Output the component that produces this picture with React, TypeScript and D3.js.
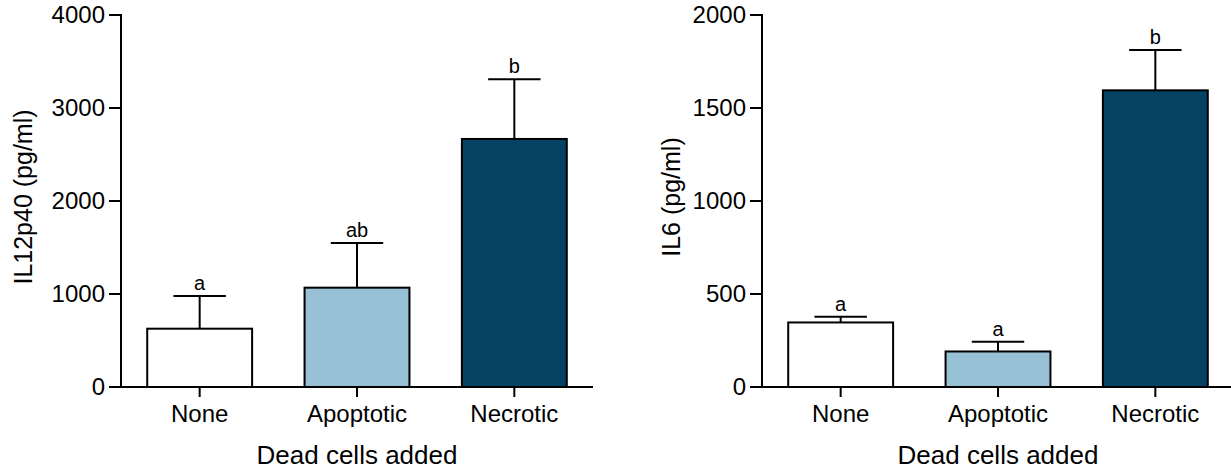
import React from "react";
import * as d3 from "d3";

// Dead-cell treatment groups
const categories = ["None", "Apoptotic", "Necrotic"];
const fills = ["#ffffff", "#99c1d6", "#034262"];

// IL12p40 (pg/ml): mean and SEM per group, with significance letters
const il12Means = [627, 1068, 2667];
const il12Sem = [351, 480, 642];
const il12Letters = ["a", "ab", "b"];
const il12Ticks = [0, 1000, 2000, 3000, 4000];

// IL6 (pg/ml): mean and SEM per group, with significance letters
const il6Means = [347, 191, 1595];
const il6Sem = [31, 52, 217];
const il6Letters = ["a", "a", "b"];
const il6Ticks = [0, 500, 1000, 1500, 2000];

const FONT = "'Liberation Sans', Arial, Helvetica, sans-serif";
const W = 1231;
const H = 470;

type PanelProps = {
  x0: number;
  x1: number;
  yMax: number;
  ticks: number[];
  means: number[];
  sem: number[];
  letters: string[];
  yTitle: string;
  yTitleX: number;
};

function Panel({ x0, x1, yMax, ticks, means, sem, letters, yTitle, yTitleX }: PanelProps) {
  const y = d3.scaleLinear().domain([0, yMax]).range([387, 15]);
  const x = d3
    .scaleBand<string>()
    .domain(categories)
    .range([x0, x1])
    .paddingInner(1 / 3)
    .paddingOuter(1 / 6);
  const bw = x.bandwidth();
  const capHalf = bw / 4;
  const y0 = y(0);

  return (
    <g>
      {/* bars */}
      {categories.map((c, i) => (
        <rect
          key={"bar" + c}
          x={x(c)!}
          y={y(means[i])}
          width={bw}
          height={y0 - y(means[i])}
          fill={fills[i]}
          stroke="#000"
          strokeWidth={2}
        />
      ))}
      {/* upper error bars */}
      {categories.map((c, i) => {
        const cx = x(c)! + bw / 2;
        const top = y(means[i] + sem[i]);
        return (
          <g key={"err" + c} stroke="#000" strokeWidth={2}>
            <line x1={cx} x2={cx} y1={y(means[i])} y2={top} />
            <line x1={cx - capHalf} x2={cx + capHalf} y1={top} y2={top} />
          </g>
        );
      })}
      {/* significance letters */}
      {categories.map((c, i) => (
        <text
          key={"let" + c}
          x={x(c)! + bw / 2}
          y={y(means[i] + sem[i]) - 6}
          textAnchor="middle"
          fontFamily={FONT}
          fontSize={20}
          fill="#000"
        >
          {letters[i]}
        </text>
      ))}
      {/* y axis */}
      <line x1={x0} x2={x0} y1={y(yMax) - 1} y2={y0 + 1} stroke="#000" strokeWidth={2} />
      {ticks.map((t) => (
        <g key={"yt" + t}>
          <line x1={x0 - 12} x2={x0} y1={y(t)} y2={y(t)} stroke="#000" strokeWidth={2} />
          <text
            x={x0 - 16}
            y={y(t)}
            dy="0.35em"
            textAnchor="end"
            fontFamily={FONT}
            fontSize={24}
            fill="#000"
          >
            {t}
          </text>
        </g>
      ))}
      {/* x axis */}
      <line x1={x0 - 1} x2={x1} y1={y0} y2={y0} stroke="#000" strokeWidth={2} />
      {categories.map((c) => {
        const cx = x(c)! + bw / 2;
        return (
          <g key={"xt" + c}>
            <line x1={cx} x2={cx} y1={y0} y2={y0 + 10} stroke="#000" strokeWidth={2} />
            <text x={cx} y={422} textAnchor="middle" fontFamily={FONT} fontSize={24} fill="#000">
              {c}
            </text>
          </g>
        );
      })}
      {/* axis titles */}
      <text
        x={(x0 + x1) / 2}
        y={464}
        textAnchor="middle"
        fontFamily={FONT}
        fontSize={26}
        fill="#000"
      >
        Dead cells added
      </text>
      <text
        transform={`translate(${yTitleX},${(y(0) + y(yMax)) / 2 - 4}) rotate(-90)`}
        textAnchor="middle"
        fontFamily={FONT}
        fontSize={25}
        fill="#000"
      >
        {yTitle}
      </text>
    </g>
  );
}

export default function App() {
  return (
    <svg
      width={W}
      height={H}
      style={{ position: "absolute", left: 0, top: 0, background: "#fff" }}
    >
      <rect width={W} height={H} fill="#fff" />
      <Panel
        x0={121}
        x1={593}
        yMax={4000}
        ticks={il12Ticks}
        means={il12Means}
        sem={il12Sem}
        letters={il12Letters}
        yTitle="IL12p40 (pg/ml)"
        yTitleX={32}
      />
      <Panel
        x0={762}
        x1={1234}
        yMax={2000}
        ticks={il6Ticks}
        means={il6Means}
        sem={il6Sem}
        letters={il6Letters}
        yTitle="IL6 (pg/ml)"
        yTitleX={680}
      />
    </svg>
  );
}
